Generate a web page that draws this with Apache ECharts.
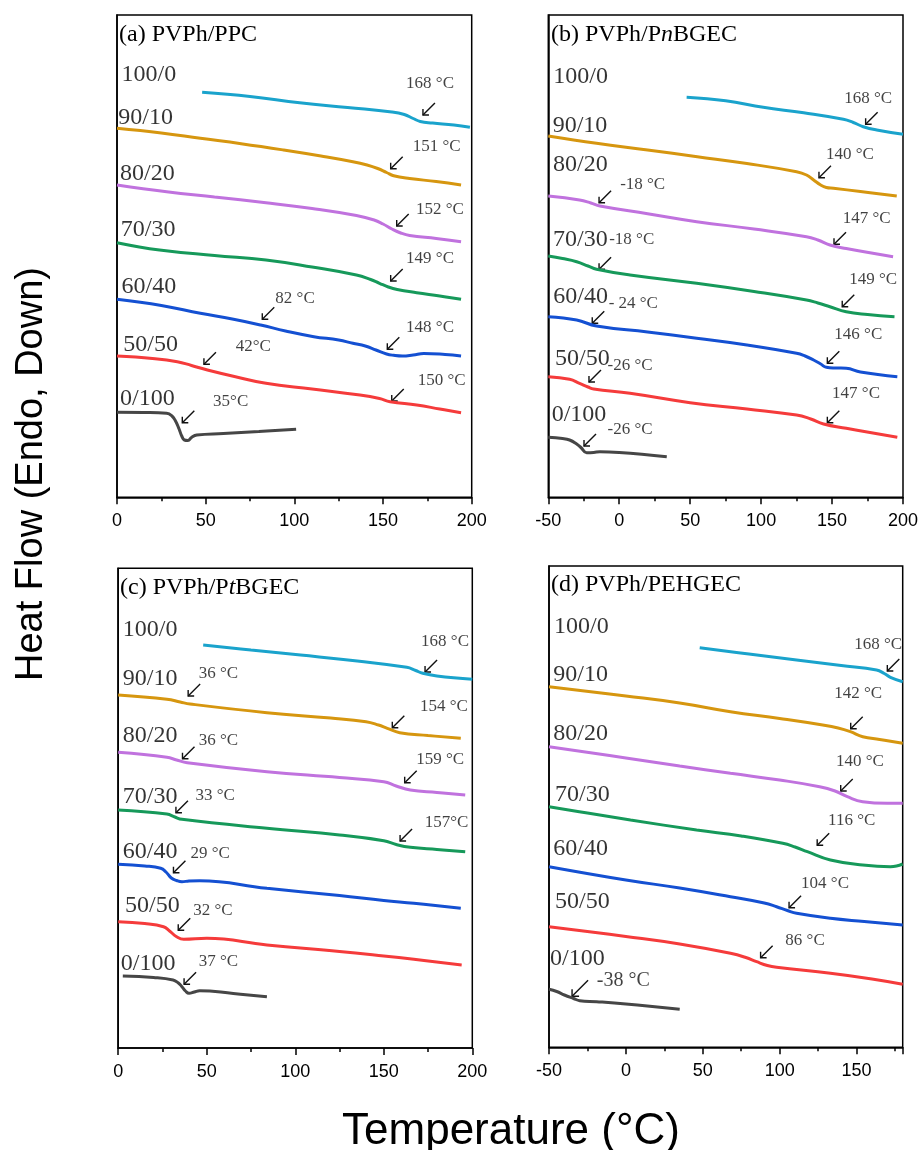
<!DOCTYPE html>
<html><head><meta charset="utf-8">
<script src="https://cdn.jsdelivr.net/npm/echarts@6/dist/echarts.min.js"></script>
<style>html,body{margin:0;padding:0;background:#fff}#c{width:922px;height:1150px}</style>
</head><body><div id="c"></div>
<script>
// ---------- data ----------
const ratios = ['100/0','90/10','80/20','70/30','60/40','50/50','0/100'];
const xTicksAC = [0, 50, 100, 150, 200];
const xTicksB = [-50, 0, 50, 100, 150, 200];
const xTicksD = [-50, 0, 50, 100, 150];

// (a) PVPh/PPC  [temperature °C, heat flow a.u.]
const a100_0 = [[48,40.5],[75,40.08],[103,39.46],[130,38.98],[155,38.53],[162,38.28],[167,37.88],[171,37.58],[178,37.43],[190,37.23],[199,37.0]];
const a90_10 = [[0,36.9],[25,36.43],[47,35.9],[70,35.36],[94,34.73],[115,34.13],[133,33.56],[141,33.23],[147,32.88],[152,32.48],[156,32.16],[165,31.88],[180,31.58],[194,31.23]];
const a80_20 = [[0,31.23],[28,30.56],[55,30.03],[84,29.46],[110,28.88],[135,28.18],[145,27.73],[150,27.33],[155,26.83],[160,26.43],[165,26.18],[180,25.88],[194,25.56]];
const a70_30 = [[0,25.46],[24,24.73],[55,24.18],[84,23.73],[110,23.03],[135,22.23],[143,21.78],[148,21.4],[153,21.03],[158,20.78],[169,20.46],[182,20.13],[194,19.8]];
const a60_40 = [[0,19.8],[25,19.18],[47,18.4],[65,17.83],[81,17.23],[95,16.63],[111,16.06],[125,15.73],[133,15.4],[140,15.13],[146,14.73],[152,14.33],[156,14.2],[161,14.13],[167,14.23],[173,14.38],[185,14.28],[194,14.13]];
const a50_50 = [[0,14.13],[20,13.88],[34,13.56],[42,13.18],[51,12.73],[65,12.13],[84,11.4],[110,10.83],[137,10.23],[148,9.88],[154,9.56],[169,9.23],[182,8.83],[194,8.46]];
const a0_100 = [[0,8.5],[15,8.48],[28,8.4],[31,8.13],[33,7.63],[35,6.83],[36.5,6.13],[38,5.73],[40,5.68],[42,5.98],[45,6.23],[60,6.38],[80,6.58],[101,6.8]];

// (b) PVPh/PnBGEC
const b100_0 = [[47.5,40.0],[75,39.65],[101.5,39.0],[130,38.45],[158,37.8],[165,37.48],[172,37.06],[181.5,36.73],[200,36.3]];
const b90_10 = [[-50,36.13],[-16,35.4],[20,34.73],[55,34.06],[90,33.38],[125,32.56],[132,32.23],[137,31.73],[142,31.23],[146,30.98],[151,30.9],[170,30.58],[195.6,30.13]];
const b80_20 = [[-50,30.13],[-28,29.73],[-20,29.43],[-13.6,29.13],[20,28.36],[54.6,27.56],[95,26.83],[132,26.06],[140,25.73],[148.5,25.23],[160,24.88],[193,24.06]];
const b70_30 = [[-50,24.13],[-40,23.88],[-30,23.56],[-22,23.13],[-16,22.8],[7.6,22.23],[54.6,21.4],[95,20.58],[132,19.73],[140,19.43],[148.5,19.06],[160,18.56],[175,18.28],[194,18.06]];
const b60_40 = [[-50,18.06],[-30,17.73],[-16,17.13],[20,16.53],[54.6,15.9],[90,15.23],[125,14.4],[131,14.13],[137,13.73],[142,13.33],[146,13.0],[153,12.93],[160,12.9],[170,12.53],[196,12.06]];
const b50_50 = [[-50,12.06],[-35,11.8],[-28,11.4],[-22,11.03],[-18,10.83],[7.6,10.4],[50,9.46],[90,8.83],[125,8.23],[135,7.83],[144,7.33],[160,6.9],[196,6.0]];
const b0_100 = [[-50,6.0],[-40,5.88],[-35,5.73],[-30,5.33],[-27,4.98],[-23,4.46],[-18,4.48],[-13.6,4.56],[0,4.48],[33.5,4.06]];

// (c) PVPh/PtBGEC
const c100_0 = [[48,40.3],[75,39.8],[103,39.3],[135,38.7],[163,38.07],[168,37.75],[172,37.47],[180,37.2],[200,36.87]];
const c90_10 = [[0,35.3],[27.5,34.87],[35,34.6],[40.6,34.4],[84,33.53],[120,33.0],[140,32.63],[147,32.3],[152,31.97],[159,31.53],[175,31.25],[193.5,30.97]];
const c80_20 = [[0,29.57],[27.5,29.07],[33,28.8],[39,28.53],[84,27.63],[125,27.05],[150,26.63],[157,26.2],[165,25.8],[180,25.55],[196,25.3]];
const c70_30 = [[0,23.8],[27.5,23.4],[32,23.1],[36,22.87],[84,21.97],[125,21.3],[150,20.73],[157,20.35],[165,20.07],[180,19.85],[196,19.63]];
const c60_40 = [[0,18.37],[15,18.2],[24,17.97],[27,17.6],[30,17.0],[33,16.75],[36,16.63],[40,16.7],[46,16.73],[84,15.97],[125,15.25],[150,14.75],[167,14.47],[193.5,13.97]];
const c50_50 = [[0,12.63],[15,12.45],[25.6,12.13],[29,11.7],[33,11.13],[37,10.87],[50,10.97],[84,10.3],[125,9.65],[150,9.2],[167,8.87],[194,8.3]];
const c0_100 = [[2.6,7.2],[20,7.05],[31,6.8],[34,6.5],[36,6.13],[38,5.7],[40,5.47],[43,5.6],[46,5.73],[65,5.45],[84,5.13]];

// (d) PVPh/PEHGEC
const d100_0 = [[48,39.96],[80,39.33],[111,38.73],[140,38.18],[163,37.73],[168,37.38],[172,37.0],[180,36.56]];
const d90_10 = [[-50,36.06],[0,35.13],[35,34.43],[68,33.56],[100,32.88],[128,32.23],[138,31.93],[146,31.56],[154,31.06],[165,30.78],[180,30.4]];
const d80_20 = [[-50,30.06],[0,28.93],[35,28.13],[68,27.4],[100,26.73],[126,26.06],[136,25.63],[144,25.06],[154,24.56],[170,24.4],[180,24.4]];
const d70_30 = [[-50,24.06],[-25,23.43],[3,22.73],[46,21.73],[75,21.13],[102,20.4],[110,20.03],[118,19.56],[133,18.73],[154,18.23],[172,18.06],[176,18.13],[180,18.33]];
const d60_40 = [[-50,18.06],[0,16.73],[35,15.93],[68,15.06],[90,14.43],[98,14.06],[105,13.68],[111,13.4],[133,12.9],[155,12.58],[180,12.23]];
const d50_50 = [[-50,12.06],[0,11.08],[35,10.33],[68,9.4],[78,8.98],[85,8.56],[92,8.18],[98,8.0],[133,7.4],[160,6.83],[180,6.3]];
const d0_100 = [[-50,5.8],[-45,5.58],[-40,5.23],[-34,4.88],[-30,4.66],[-19,4.56],[0,4.33],[35,3.8]];

// ratio label anchors (data coords: T, heat flow)
const ratioAtA = [[2.6,42.23],[0.7,38.0],[1.7,32.33],[2.1,26.73],[2.6,21.06],[3.5,15.23],[1.7,9.9]];
const ratioAtB = [[-46.5,42.06],[-46.9,37.13],[-46.7,33.23],[-46.7,25.73],[-46.5,20.06],[-45.3,13.9],[-47.6,8.23]];
const ratioAtC = [[2.6,41.87],[2.6,36.97],[2.6,31.2],[2.6,25.13],[2.6,19.63],[3.9,14.2],[1.5,8.47]];
const ratioAtD = [[-46.7,42.06],[-47.2,37.23],[-47.2,31.4],[-46.1,25.23],[-47.2,19.9],[-46.1,14.56],[-49.3,8.9]];

// Tg annotations: [text, textT, textY, arrowT, arrowY]
const annA = [['168 °C',176.5,41.4,175.9,38.83],['151 °C',180.3,35.06,157.7,33.46],['152 °C',182.1,28.8,161.1,27.73],['149 °C',176.5,23.9,157.7,22.23],['82 °C',100.4,19.9,85.3,18.4],['148 °C',176.5,17.0,155.8,15.4],['42°C',76.9,15.06,52.4,13.9],['150 °C',183.1,11.66,158.3,10.23],['35°C',64.1,9.56,40.2,8.06]];
const annB = [['168 °C',175.5,39.83,177.9,37.9],['140 °C',162.6,34.3,145,32.56],['-18 °C',16.5,31.23,-10,30.06],['147 °C',174.4,27.9,155.6,25.9],['-18 °C',8.8,25.73,-10,23.4],['149 °C',179,21.73,161.4,19.66],['- 24 °C',9.9,19.4,-14.8,18.0],['146 °C',168.5,16.23,150.9,14.0],['-26 °C',7.6,13.13,-17.1,12.13],['147 °C',166.9,10.33,150.9,8.06],['-26 °C',7.6,6.73,-20.6,5.73]];
const annC = [['168 °C',184.6,40.63,176.7,38.2],['36 °C',56.6,37.47,42.9,35.8],['154 °C',184,34.13,158.2,32.63],['36 °C',56.6,30.7,39.7,29.53],['159 °C',181.8,28.8,165.2,27.13],['33 °C',54.8,25.2,36,24.13],['157°C',185.5,22.53,162.6,21.3],['29 °C',51.9,19.4,34.6,18.13],['32 °C',53.5,13.73,37.3,12.37],['37 °C',56.6,8.63,40.6,6.97]];
const annD = [['168 °C',164.1,40.3,173.9,38.23],['142 °C',151.1,35.33,150.1,32.46],['140 °C',152.2,28.56,143.6,26.23],['116 °C',146.8,22.66,128.3,20.8],['104 °C',129.5,16.33,110,14.56],['86 °C',116.5,10.66,91.5,9.56],['-38 °C',-1.7,6.66,-29.8,5.9]];

// ---------- styling / layout ----------
const colors = ['#1aa3cc','#d6960f','#c072de','#16995a','#1450d2','#f53b3b','#464646'];
const SERIF = "'Liberation Serif','Times New Roman',serif";
const SANS = "'Liberation Sans',Arial,sans-serif";

const panels = [
  {curves:[a100_0,a90_10,a80_20,a70_30,a60_40,a50_50,a0_100], ratioAt:ratioAtA, ann:annA,
   grid:{left:117,top:15,width:354.7,height:482.3}, x:{min:0,max:200}, yMax:48.23, big:-1},
  {curves:[b100_0,b90_10,b80_20,b70_30,b60_40,b50_50,b0_100], ratioAt:ratioAtB, ann:annB,
   grid:{left:548.3,top:15,width:354.7,height:482.3}, x:{min:-50,max:200}, yMax:48.23, big:-1},
  {curves:[c100_0,c90_10,c80_20,c70_30,c60_40,c50_50,c0_100], ratioAt:ratioAtC, ann:annC,
   grid:{left:118.2,top:568.3,width:354.1,height:479.7}, x:{min:0,max:200}, yMax:47.97, big:-1},
  {curves:[d100_0,d90_10,d80_20,d70_30,d60_40,d50_50,d0_100], ratioAt:ratioAtD, ann:annD,
   grid:{left:549,top:566,width:353.7,height:481.3}, x:{min:-50,max:180}, yMax:48.13, big:6}
];

const grids = [], xAxes = [], yAxes = [], series = [];
panels.forEach((p, i) => {
  grids.push(Object.assign({show:true, borderColor:'#000', borderWidth:1.5, backgroundColor:'transparent'}, p.grid));
  xAxes.push({
    type:'value', gridIndex:i, min:p.x.min, max:p.x.max, interval:50,
    axisLine:{show:true, onZero:false, lineStyle:{color:'#000', width:1.5}},
    axisTick:{show:true, inside:false, length:7, lineStyle:{color:'#000', width:1.5}},
    minorTick:{show:true, splitNumber:2, length:4, lineStyle:{color:'#000', width:1.5}},
    splitLine:{show:false}, minorSplitLine:{show:false},
    axisLabel:{show:true, color:'#000', fontSize:18, fontFamily:SANS, margin:15,
               showMaxLabel: p.x.max % 50 === 0}
  });
  yAxes.push({
    type:'value', gridIndex:i, min:0, max:p.yMax,
    axisLine:{show:true, onZero:false, lineStyle:{color:'#000', width:1.5}},
    axisTick:{show:false}, axisLabel:{show:false}, splitLine:{show:false}
  });
  p.curves.forEach((d, k) => {
    series.push({
      type:'line', xAxisIndex:i, yAxisIndex:i, data:d, showSymbol:false,
      smooth:0.45, silent:true,
      lineStyle:{color:colors[k], width:3}, itemStyle:{color:colors[k]}
    });
  });
  // ratio labels
  series.push({
    type:'scatter', xAxisIndex:i, yAxisIndex:i, silent:true, symbolSize:1,
    itemStyle:{color:'rgba(0,0,0,0)'}, clip:false,
    data: p.ratioAt.map((a, k) => ({name:ratios[k], value:a})),
    label:{show:true, position:'inside', align:'left', verticalAlign:'middle', formatter:'{b}',
           color:'#000', fontSize:24, fontFamily:SERIF}
  });
  // annotation text
  series.push({
    type:'scatter', xAxisIndex:i, yAxisIndex:i, silent:true, symbolSize:1,
    itemStyle:{color:'rgba(0,0,0,0)'}, clip:false,
    data: p.ann.map((a, k) => ({name:a[0], value:[a[1], a[2]],
      label: k === p.big ? {fontSize:20} : undefined})),
    label:{show:true, position:'inside', align:'center', verticalAlign:'middle', formatter:'{b}',
           color:'#111', fontSize:17, fontFamily:SERIF}
  });
  // arrows
  const bigIdx = p.big;
  series.push({
    type:'custom', xAxisIndex:i, yAxisIndex:i, silent:true,
    data: p.ann.map(a => [a[3], a[4]]),
    renderItem: function(params, api) {
      const c = api.coord([api.value(0), api.value(1)]);
      const s = params.dataIndex === bigIdx ? 8 : 6;
      const h = params.dataIndex === bigIdx ? 7 : 6;
      const st = {stroke:'#111', lineWidth:1.4, fill:null};
      return {type:'group', children:[
        {type:'line', shape:{x1:c[0]+s, y1:c[1]-s, x2:c[0]-s, y2:c[1]+s}, style:st},
        {type:'polyline', shape:{points:[[c[0]-s+h, c[1]+s],[c[0]-s, c[1]+s],[c[0]-s, c[1]+s-h]]}, style:st}
      ]};
    }
  });
});

const titleStyle = {color:'#000', fontSize:24, fontFamily:SERIF, fontWeight:'normal', lineHeight:24,
  rich:{i:{fontStyle:'italic', fontSize:24, fontFamily:SERIF, color:'#000', lineHeight:24}}};
const titles = [
  {text:'(a) PVPh/PPC', left:119, top:23},
  {text:'(b) PVPh/P{i|n}BGEC', left:551, top:23},
  {text:'(c) PVPh/P{i|t}BGEC', left:120, top:576},
  {text:'(d) PVPh/PEHGEC', left:551, top:573}
].map(t => Object.assign({padding:0, textStyle:titleStyle}, t));

const chart = echarts.init(document.getElementById('c'), null, {renderer:'canvas'});
chart.setOption({
  animation:false,
  backgroundColor:'#fff',
  title: titles,
  grid: grids, xAxis: xAxes, yAxis: yAxes, series: series,
  graphic: [
    {type:'text', x:511, y:1132, silent:true,
     style:{text:'Temperature (°C)', font:'44px ' + SANS, fill:'#000', textAlign:'center', textVerticalAlign:'middle'}},
    {type:'text', x:32, y:474, rotation:Math.PI/2, silent:true,
     style:{text:'Heat Flow (Endo, Down)', font:'38px ' + SANS, fill:'#000', textAlign:'center', textVerticalAlign:'middle'}}
  ]
});
</script></body></html>
